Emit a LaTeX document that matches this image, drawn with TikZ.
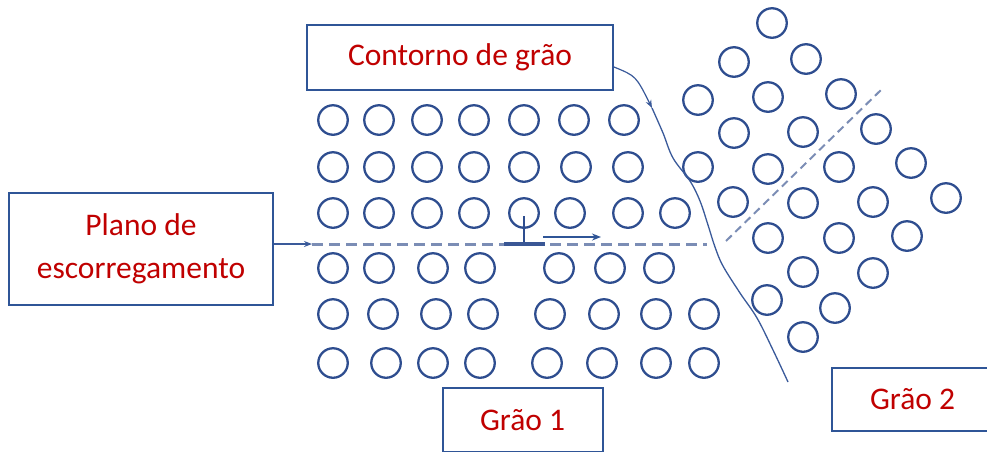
\documentclass[tikz,border=0pt]{standalone}
\usepackage{fontspec}
\setmainfont{Carlito}
\usetikzlibrary{arrows.meta}
\definecolor{cblue}{HTML}{2E4D8F}
\definecolor{boxblue}{HTML}{2F5597}
\definecolor{dashblue}{HTML}{7B8DB5}
\definecolor{lineblue}{HTML}{3A5A9A}
\definecolor{tred}{HTML}{C00000}
\begin{document}
\begin{tikzpicture}[x=1pt,y=-1pt,
  atom/.style={circle,draw=cblue,line width=2.3pt,inner sep=0pt,minimum size=29.5pt},
  labelbox/.style={draw=boxblue,line width=2pt,fill=white,text=tred,align=center,
    font=\fontsize{31.5}{43}\selectfont,inner sep=0pt},
  thinarrow/.style={draw=lineblue,line width=1.2pt,-{Stealth[length=8pt,width=6pt]}},
  slip/.style={draw=dashblue,line width=3pt,dash pattern=on 11pt off 6pt},
  slipb/.style={draw=dashblue,line width=2pt,dash pattern=on 8pt off 5pt}]
\useasboundingbox (0,0) rectangle (987,451);
\fill[white] (0,0) rectangle (987,451);

% left grain
\foreach \x [count=\i] in {333,379,427,474,524,574,624}
  \node[atom] (l1-\i) at (\x,120) {};
\foreach \x [count=\i] in {333,379,427,474,524,576,628}
  \node[atom] (l2-\i) at (\x,167) {};
\foreach \x [count=\i] in {333,379,427,474,524,570,628,675}
  \node[atom] (l3-\i) at (\x,213) {};
\foreach \x [count=\i] in {333,379,433,480,559,610,659}
  \node[atom] (l4-\i) at (\x,268) {};
\foreach \x [count=\i] in {333,383,436,483,550,604,656,704}
  \node[atom] (l5-\i) at (\x,314) {};
\foreach \x [count=\i] in {333,386,433,480,547,602,656,704}
  \node[atom] (l6-\i) at (\x,363) {};

% right grain
\foreach \p [count=\i] in {(772,23),(734,62),(806,59),(698,100),(768,97),(841,94),
  (734,133),(803,132),(876,129),(698,167),(768,169),(839,167),(911,163),
  (733,202),(803,203),(873,202),(946,198),(768,238),(839,238),(907,236),
  (803,272),(873,273),(767,300),(835,308),(803,337)}
  \node[atom] (r-\i) at \p {};

% slip planes
\coordinate (slipstart) at (312,244);
\coordinate (slipend) at (707,244);
\draw[slip] (slipstart) -- (slipend);
\coordinate (rs1) at (726,241);
\coordinate (rs2) at (883,88);
\draw[slipb] (rs1) -- (rs2);

% dislocation
\coordinate (dtop) at (524,216);
\coordinate (dbot) at (524,244);
\draw[cblue,line width=2.2pt] (dtop) -- (dbot);
\draw[cblue!85!dashblue,line width=3.2pt] (504,244) -- (545,244);
\coordinate (da1) at (543,237);
\coordinate (da2) at (601,237);
\draw[draw=boxblue,line width=2pt,-{Stealth[length=9pt,width=7pt]}] (da1) -- (da2);

% grain boundary
\coordinate (gbtop) at (652,108);
\draw[lineblue,line width=1.3pt] plot[smooth,tension=0.6] coordinates
  {(gbtop) (663,133) (673,158) (690,181) (700,201) (708,225) (715,247) (723,266)
   (740,293) (757,318) (773,350) (788,382)};

% label boxes
\node[labelbox,minimum width=306pt,minimum height=65pt] (cont) at (460,57.5) {Contorno de grão};
\node[labelbox,minimum width=264pt,minimum height=112pt] (plano) at (141,249) {Plano de\\escorregamento};
\node[labelbox,minimum width=160pt,minimum height=64pt] (g1) at (522.5,420) {Grão 1};
\node[labelbox,minimum width=161pt,minimum height=63pt] (g2) at (912.5,399.5) {Grão 2};

% connectors
\draw[thinarrow] (plano.east |- slipstart) -- (slipstart);
\draw[thinarrow] ([yshift=-9.5pt]cont.east) .. controls (636,76) .. (gbtop);
\end{tikzpicture}
\end{document}
